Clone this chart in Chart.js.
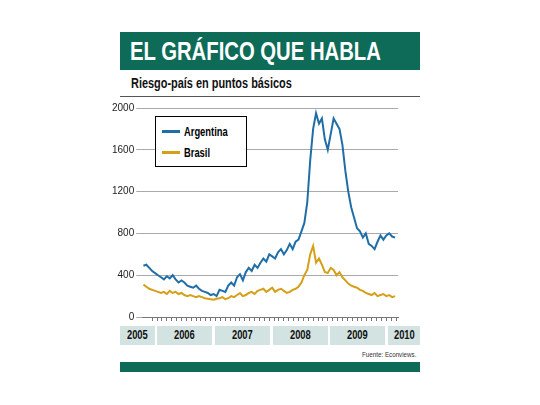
<!DOCTYPE html><html><head><meta charset="utf-8">
<script src="https://cdn.jsdelivr.net/npm/chart.js@4"></script>
<style>
body{margin:0;width:540px;height:405px;background:#fff;font-family:"Liberation Sans",sans-serif;position:relative;overflow:hidden}
.n{display:inline-block;transform:scaleX(0.78);transform-origin:left center;white-space:nowrap}
#hdr{position:absolute;left:120px;top:32px;width:300px;height:38px;background:#0d6b58;color:#fff;font:bold 26px "Liberation Sans",sans-serif;line-height:38px;padding-left:10px;box-sizing:border-box;white-space:nowrap;overflow:hidden}
#sub{position:absolute;left:131px;top:75px;font:bold 14px "Liberation Sans",sans-serif;color:#111;white-space:nowrap}
#rule{position:absolute;left:120px;top:96px;width:300px;height:1px;background:#555}
#wrap{position:absolute;left:110px;top:100px;width:310px;height:225px}
.band{position:absolute;top:326px;height:19px;background:#d3e3e1;font:bold 12px "Liberation Sans",sans-serif;text-align:center;line-height:19px;color:#111}
.band .n{transform-origin:center}
#src{position:absolute;left:362px;top:350px;font:8px "Liberation Sans",sans-serif;color:#333;white-space:nowrap}
#foot{position:absolute;left:120px;top:362px;width:300px;height:10px;background:#0d6b58}
#leg{position:absolute;left:155px;top:116px;width:90px;height:49px;border:1px solid #000;background:#fff;font:bold 12px "Liberation Sans",sans-serif}
#leg div{position:absolute;left:6px;white-space:nowrap}
#leg span.k{display:inline-block;width:18px;height:3px;vertical-align:middle;margin-right:4px}
</style></head><body>
<div id="hdr"><span class="n">EL GRÁFICO QUE HABLA</span></div>
<div id="sub"><span class="n">Riesgo-país en puntos básicos</span></div>
<div id="rule"></div>
<div id="wrap"><canvas id="c" width="310" height="225"></canvas></div>
<div id="leg"><div style="top:7px"><span class="k" style="background:#1f6ea8"></span><span class="n" style="vertical-align:middle">Argentina</span></div><div style="top:28px"><span class="k" style="background:#d4a017"></span><span class="n" style="vertical-align:middle">Brasil</span></div></div>
<div class="band" style="left:120px;width:35px"><span class="n">2005</span></div>
<div class="band" style="left:157px;width:55px"><span class="n">2006</span></div>
<div class="band" style="left:215px;width:55px"><span class="n">2007</span></div>
<div class="band" style="left:273px;width:55px"><span class="n">2008</span></div>
<div class="band" style="left:330px;width:55px"><span class="n">2009</span></div>
<div class="band" style="left:388px;width:32px"><span class="n">2010</span></div>
<div id="src"><span class="n">Fuente: Econviews.</span></div>
<div id="foot"></div>
<script>
const dates=[2005.85,2005.90,2005.95,2006.00,2006.05,2006.10,2006.15,2006.20,2006.25,2006.30,2006.35,2006.40,2006.45,2006.50,2006.55,2006.60,2006.65,2006.70,2006.75,2006.80,2006.85,2006.90,2006.95,2007.00,2007.05,2007.10,2007.15,2007.20,2007.25,2007.30,2007.35,2007.40,2007.45,2007.50,2007.55,2007.60,2007.65,2007.70,2007.75,2007.80,2007.85,2007.90,2007.95,2008.00,2008.05,2008.10,2008.15,2008.20,2008.25,2008.30,2008.35,2008.40,2008.45,2008.50,2008.55,2008.60,2008.65,2008.70,2008.75,2008.80,2008.85,2008.90,2008.95,2009.00,2009.05,2009.10,2009.15,2009.20,2009.25,2009.30,2009.35,2009.40,2009.45,2009.50,2009.55,2009.60,2009.65,2009.70,2009.75,2009.80,2009.85,2009.90,2009.95,2010.00,2010.05,2010.10,2010.15];
const argentina=[490,500,470,440,420,400,380,360,390,370,400,360,330,350,330,300,290,280,300,270,250,240,230,210,220,200,260,250,240,300,330,300,380,410,350,430,470,440,500,470,520,560,530,600,580,560,620,650,600,640,700,650,720,740,820,900,1100,1500,1800,1950,1850,1900,1700,1600,1750,1900,1850,1800,1650,1400,1200,1050,950,850,820,760,800,700,680,650,720,780,740,780,800,770,760];
const brasil=[310,290,270,260,250,240,230,240,220,250,230,240,220,230,210,200,210,200,190,200,190,180,175,170,165,175,180,190,170,180,200,190,210,230,200,210,230,240,220,250,260,270,240,260,280,240,260,270,250,230,240,260,270,290,330,400,450,600,680,520,560,500,430,420,470,450,400,430,380,350,320,300,290,280,260,250,230,220,210,230,200,210,220,200,210,190,200];
const yTicks=[0,400,800,1200,1600,2000];
const pts=a=>a.map((v,i)=>({x:dates[i],y:v}));
new Chart(document.getElementById('c'),{type:'line',
data:{datasets:[
{label:'Brasil',data:pts(brasil),borderColor:'#d4a017',borderWidth:2,pointRadius:0,tension:0},
{label:'Argentina',data:pts(argentina),borderColor:'#1f6ea8',borderWidth:2,pointRadius:0,tension:0}]},
options:{responsive:false,animation:false,
layout:{padding:{left:0,right:22,top:5,bottom:0}},
plugins:{legend:{display:false},tooltip:{enabled:false}},
scales:{
x:{type:'linear',min:2005.83,max:2010.2,grid:{drawOnChartArea:false,color:'#777',tickLength:4},border:{color:'#777'},
 afterBuildTicks:s=>{const t=[];for(let y=2006;y<=2010.2;y+=1/12)t.push({value:y});s.ticks=t;},
 ticks:{display:true,callback:()=>'',font:{size:1},padding:0}},
y:{min:0,max:2000,afterBuildTicks:s=>{s.ticks=yTicks.map(v=>({value:v}));},
 grid:{color:'#aaa',tickLength:6},border:{display:false},
 ticks:{color:'#222',font:{family:'Liberation Sans',size:10},padding:2,callback:v=>String(v)}}}}});
</script></body></html>
